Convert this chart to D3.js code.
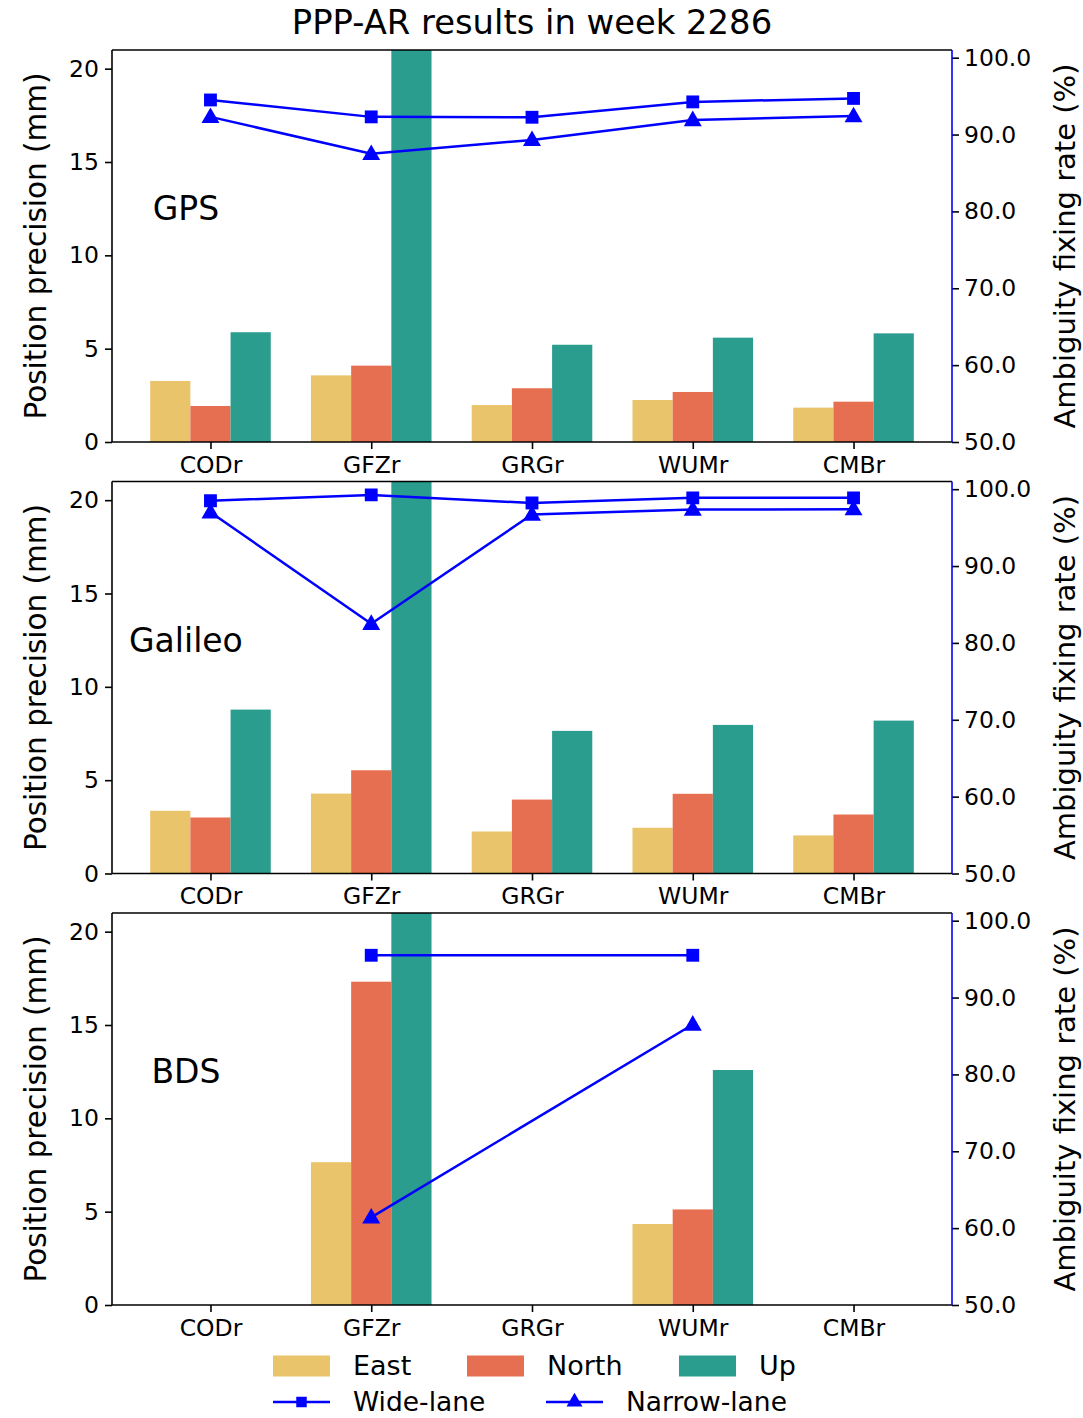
<!DOCTYPE html>
<html><head><meta charset="utf-8">
<script src="https://cdn.jsdelivr.net/npm/d3@7"></script>
<style>body{margin:0;background:#fff}svg{display:block}text{font-family:"DejaVu Sans",sans-serif;fill:#000}</style>
</head><body><svg id="c" width="1083" height="1418"></svg>
<script>
const title = "PPP-AR results in week 2286";
const categories = ["CODr","GFZr","GRGr","WUMr","CMBr"];
const systems = ["GPS","Galileo","BDS"];
const components = ["East","North","Up"];
const compColors = ["#E9C46A","#E76F51","#2A9D8F"];
// Position precision (mm); GFZr Up exceeds the axis top (clipped)
const gpsEast  = [3.27, 3.57, 1.98, 2.25, 1.84];
const gpsNorth = [1.93, 4.09, 2.88, 2.68, 2.16];
const gpsUp    = [5.88, 24.0, 5.21, 5.59, 5.82];
const galEast  = [3.36, 4.28, 2.25, 2.45, 2.04];
const galNorth = [3.00, 5.53, 3.96, 4.27, 3.16];
const galUp    = [8.78, 24.0, 7.64, 7.96, 8.19];
const bdsEast  = [null, 7.65, null, 4.34, null];
const bdsNorth = [null, 17.32, null, 5.12, null];
const bdsUp    = [null, 24.0, null, 12.59, null];
// Ambiguity fixing rate (%)
const gpsWide   = [94.5, 92.3, 92.25, 94.25, 94.7];
const gpsNarrow = [92.3, 87.5, 89.3, 91.9, 92.4];
const galWide   = [98.5, 99.25, 98.2, 98.87, 98.87];
const galNarrow = [97.0, 82.5, 96.7, 97.35, 97.4];
const bdsWide   = [null, 95.5, null, 95.5, null];
const bdsNarrow = [null, 61.4, null, 86.5, null];
const leftTicks = [0,5,10,15,20];
const rightTicks = [50,60,70,80,90,100];
const lineNames = ["Wide-lane","Narrow-lane"];

const panels = [
  {name: systems[0], bars:[gpsEast,gpsNorth,gpsUp], lines:[gpsWide,gpsNarrow]},
  {name: systems[1], bars:[galEast,galNorth,galUp], lines:[galWide,galNarrow]},
  {name: systems[2], bars:[bdsEast,bdsNorth,bdsUp], lines:[bdsWide,bdsNarrow]},
];

const svg = d3.select("#c");
const L = 112, R = 952, H = 392;
const tops = [50, 481.5, 913];
const blue = "#0000ff";
const x = d3.scaleLinear().domain([-0.6125, 4.6125]).range([L, R]);
const bw = x(0.25) - x(0);

svg.append("text").attr("x", (L+R)/2).attr("y", 34).attr("text-anchor","middle")
  .style("font-size","33.8px").text(title);

panels.forEach((p, pi) => {
  const top = tops[pi], bot = top + H;
  const yL = d3.scaleLinear().domain([0, 21]).range([bot, top]);
  const yR = d3.scaleLinear().domain([50, 101]).range([bot, top]);
  const g = svg.append("g");
  const cid = "clip"+pi;
  g.append("clipPath").attr("id", cid).append("rect").attr("x", L).attr("y", top).attr("width", R-L).attr("height", H);
  const plot = g.append("g").attr("clip-path", `url(#${cid})`);
  p.bars.forEach((arr, k) => {
    arr.forEach((v, i) => {
      if (v == null) return;
      const cx = i + (k-1)*0.25;
      plot.append("rect").attr("x", x(cx) - bw/2).attr("width", bw)
        .attr("y", yL(v)).attr("height", yL(0) - yL(v)).attr("fill", compColors[k]);
    });
  });
  const symbols = [d3.symbolSquare, d3.symbolTriangle];
  const sizes = [165, 140];
  p.lines.forEach((arr, li) => {
    const pts = arr.map((v,i)=>({v,i})).filter(d=>d.v!=null);
    plot.append("path").datum(pts)
      .attr("d", d3.line().x(d=>x(d.i)).y(d=>yR(d.v)))
      .attr("fill","none").attr("stroke", blue).attr("stroke-width", 2.5);
    pts.forEach(d => {
      plot.append("path").attr("d", d3.symbol().type(symbols[li]).size(sizes[li])())
        .attr("transform", `translate(${x(d.i)},${yR(d.v) + (li===1?1:0)})`).attr("fill", blue);
    });
  });
  // axes
  const ax = d3.axisBottom(x).tickValues(d3.range(categories.length)).tickFormat(i=>categories[i]).tickSize(7).tickPadding(4);
  const gx = g.append("g").attr("transform", `translate(0,${bot})`).call(ax);
  const al = d3.axisLeft(yL).tickValues(leftTicks).tickSize(7).tickPadding(6);
  const gl = g.append("g").attr("transform", `translate(${L},0)`).call(al);
  const ar = d3.axisRight(yR).tickValues(rightTicks).tickFormat(d3.format(".1f")).tickSize(7).tickPadding(5);
  const gr = g.append("g").attr("transform", `translate(${R},0)`).call(ar);
  [gx, gl, gr].forEach(a => {
    a.selectAll(".domain").remove();
    a.selectAll("line").attr("stroke","#000").attr("stroke-width",1.6);
    a.selectAll("text").style("font-size","23.5px").attr("fill","#000").style("font-family","DejaVu Sans");
  });
  gx.selectAll("text").attr("dy","0.85em");
  // spines
  g.append("line").attr("x1",L).attr("x2",R).attr("y1",top).attr("y2",top).attr("stroke","#000").attr("stroke-width",1.6);
  g.append("line").attr("x1",L).attr("x2",R).attr("y1",bot).attr("y2",bot).attr("stroke","#000").attr("stroke-width",1.6);
  g.append("line").attr("x1",L).attr("x2",L).attr("y1",top).attr("y2",bot).attr("stroke","#000").attr("stroke-width",1.6);
  g.append("line").attr("x1",R).attr("x2",R).attr("y1",top).attr("y2",bot).attr("stroke",blue).attr("stroke-width",1.6);
  // labels
  g.append("text").attr("transform", `translate(46,${top+H/2}) rotate(-90)`).attr("text-anchor","middle")
    .style("font-size","29.5px").text("Position precision (mm)");
  g.append("text").attr("transform", `translate(1075,${top+H/2}) rotate(-90)`).attr("text-anchor","middle")
    .style("font-size","29px").text("Ambiguity fixing rate (%)");
  g.append("text").attr("x", L + 0.088*(R-L)).attr("y", bot - 0.595*H).attr("dy","0.35em").attr("text-anchor","middle")
    .style("font-size","33px").text(p.name);
});

// legend
const lg = svg.append("g");
const row1 = 1366, row2 = 1402;
const col1 = [273, 467, 679];
components.forEach((c, k) => {
  lg.append("rect").attr("x", col1[k]).attr("y", row1-10.5).attr("width", 57).attr("height", 21).attr("fill", compColors[k]);
  lg.append("text").attr("x", col1[k]+80).attr("y", row1).attr("dy","0.35em").style("font-size","27px").text(c);
});
const col2 = [273, 546];
const lsym = [d3.symbolSquare, d3.symbolTriangle];
lineNames.forEach((n, li) => {
  lg.append("line").attr("x1", col2[li]).attr("x2", col2[li]+57).attr("y1", row2).attr("y2", row2).attr("stroke", blue).attr("stroke-width", 2.5);
  lg.append("path").attr("d", d3.symbol().type(lsym[li]).size(110)()).attr("transform", `translate(${col2[li]+28.5},${row2})`).attr("fill", blue);
  lg.append("text").attr("x", col2[li]+80).attr("y", row2).attr("dy","0.33em").style("font-size","26.5px").text(n);
});
</script></body></html>
